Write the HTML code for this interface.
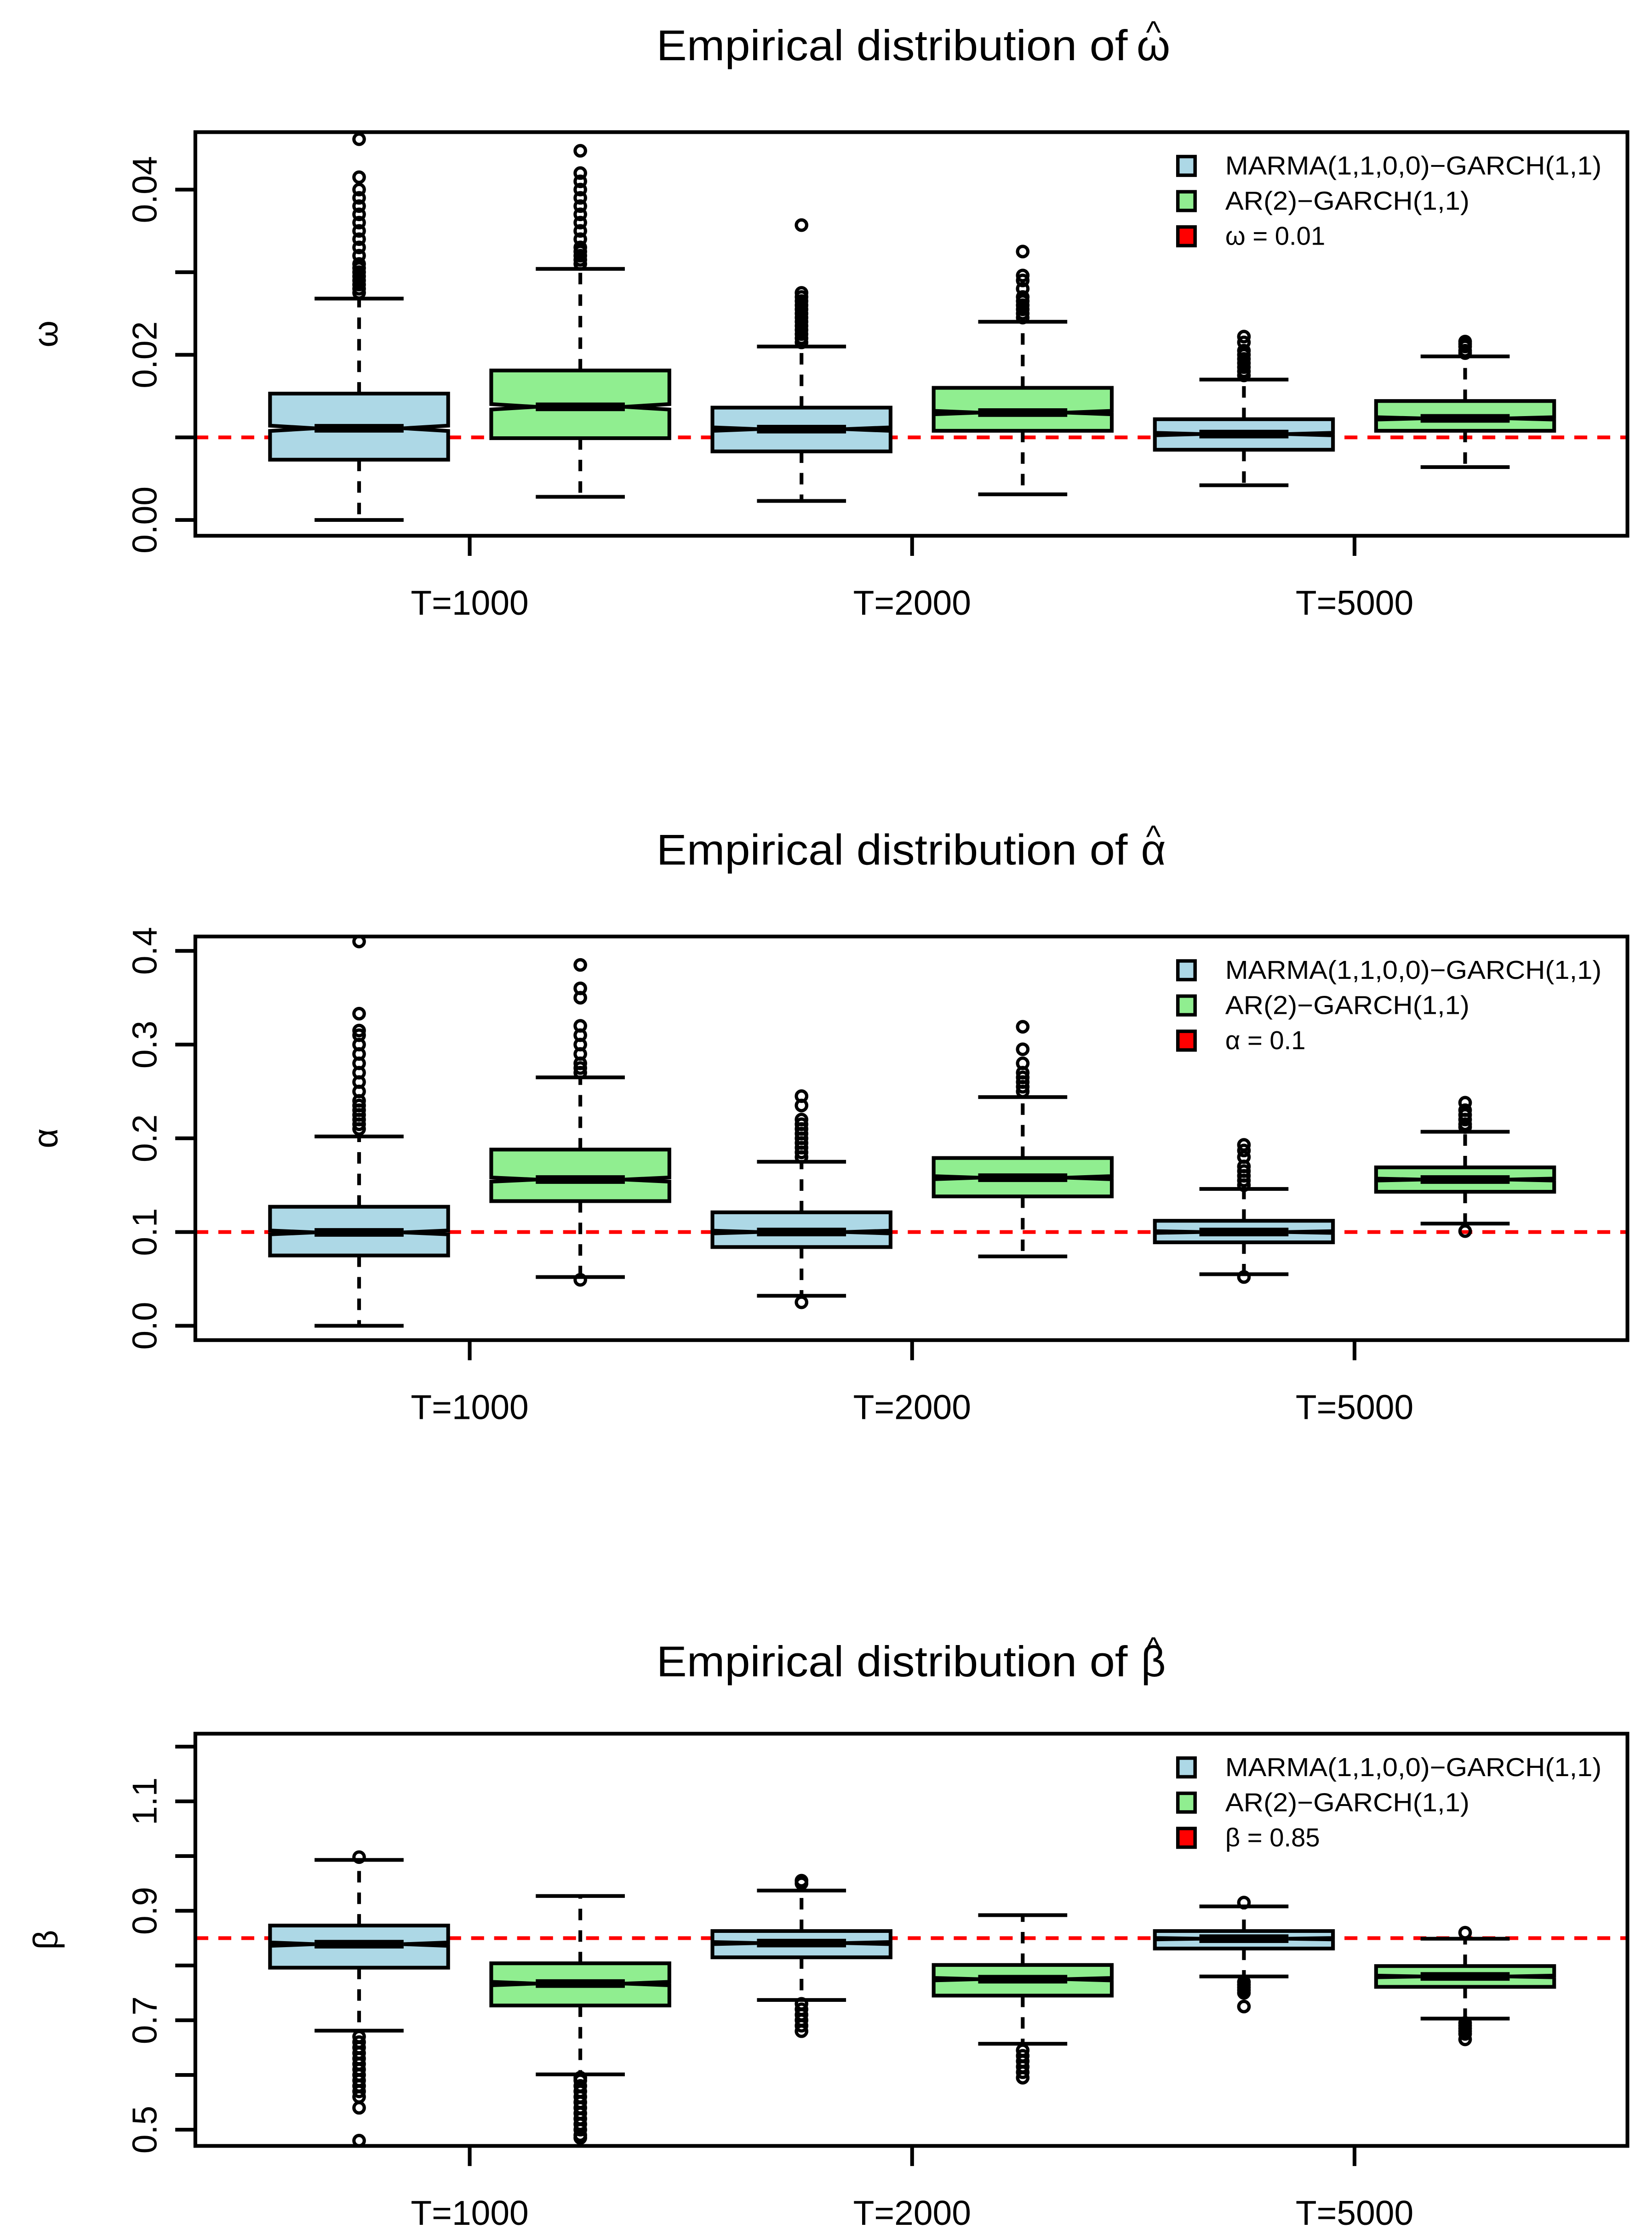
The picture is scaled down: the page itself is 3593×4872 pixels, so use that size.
<!DOCTYPE html>
<html><head><meta charset="utf-8"><style>
html,body{margin:0;padding:0;background:#fff;}
svg{display:block;font-family:"Liberation Sans",Arial,sans-serif;}
</style></head><body>
<svg id="chart" xmlns="http://www.w3.org/2000/svg" width="3593" height="4872" viewBox="0 0 1150.1 1559.5"></svg>
<script>
// ---------- data ----------
const groups = ["T=1000","T=2000","T=5000"];
const seriesNames = ["MARMA(1,1,0,0)\u2212GARCH(1,1)","AR(2)\u2212GARCH(1,1)"];
const seriesColors = ["#add8e6","#90ee90"];
// stats order per box: [low whisker, Q1, median, Q3, high whisker]
const omegaStats = [
 [0.0000,0.0073,0.0111,0.0153,0.0268],
 [0.0028,0.0099,0.0137,0.0181,0.0304],
 [0.0023,0.0083,0.0110,0.0136,0.0210],
 [0.0031,0.0108,0.0130,0.0160,0.0240],
 [0.0042,0.0085,0.0104,0.0122,0.0170],
 [0.0064,0.0108,0.0123,0.0144,0.0198]];
const omegaOut = [
 [0.0275,0.028,0.0285,0.029,0.0295,0.030,0.0305,0.031,0.032,0.033,0.034,0.035,0.036,0.037,0.038,0.039,0.040,0.0415,0.0461],
 [0.031,0.0315,0.032,0.0325,0.033,0.034,0.035,0.036,0.037,0.038,0.039,0.040,0.041,0.042,0.0447],
 [0.0215,0.022,0.0225,0.023,0.0235,0.024,0.0245,0.025,0.0255,0.026,0.0265,0.027,0.0275,0.0357],
 [0.0245,0.025,0.0255,0.026,0.0265,0.027,0.028,0.029,0.0296,0.0325],
 [0.0175,0.018,0.0185,0.019,0.0195,0.020,0.0205,0.0215,0.0222],
 [0.0202,0.0205,0.021,0.0213,0.0216]];
const omegaTicks = [0,0.01,0.02,0.03,0.04];
const omegaTickLabels = ["0.00","","0.02","","0.04"];
const omegaTrue = 0.01;

const alphaStats = [
 [0.000,0.075,0.0996,0.127,0.202],
 [0.052,0.133,0.156,0.188,0.265],
 [0.032,0.084,0.100,0.121,0.175],
 [0.074,0.138,0.158,0.179,0.244],
 [0.055,0.089,0.100,0.112,0.146],
 [0.109,0.143,0.156,0.169,0.207]];
const alphaOut = [
 [0.21,0.215,0.22,0.225,0.23,0.235,0.24,0.25,0.26,0.27,0.28,0.29,0.30,0.31,0.315,0.333,0.41],
 [0.049,0.27,0.275,0.28,0.29,0.30,0.31,0.32,0.35,0.36,0.385],
 [0.025,0.18,0.185,0.19,0.195,0.20,0.205,0.21,0.215,0.22,0.235,0.245],
 [0.25,0.255,0.26,0.265,0.27,0.28,0.295,0.319],
 [0.052,0.15,0.155,0.16,0.165,0.17,0.18,0.187,0.193],
 [0.101,0.212,0.215,0.22,0.225,0.23,0.238]];
const alphaTicks = [0,0.1,0.2,0.3,0.4];
const alphaTickLabels = ["0.0","0.1","0.2","0.3","0.4"];
const alphaTrue = 0.1;

const betaStats = [
 [0.681,0.796,0.839,0.873,0.993],
 [0.601,0.727,0.767,0.804,0.927],
 [0.737,0.815,0.841,0.863,0.937],
 [0.657,0.745,0.775,0.801,0.892],
 [0.780,0.831,0.849,0.863,0.908],
 [0.703,0.761,0.780,0.799,0.849]];
const betaOut = [
 [0.998,0.67,0.66,0.65,0.64,0.63,0.62,0.61,0.60,0.59,0.58,0.57,0.56,0.54,0.48],
 [0.595,0.59,0.58,0.57,0.56,0.55,0.54,0.53,0.52,0.51,0.50,0.49,0.485],
 [0.955,0.95,0.73,0.72,0.71,0.70,0.69,0.68],
 [0.645,0.635,0.625,0.615,0.605,0.595],
 [0.915,0.77,0.765,0.76,0.755,0.75,0.725],
 [0.86,0.695,0.69,0.685,0.68,0.675,0.665]];
const betaTicks = [0.5,0.6,0.7,0.8,0.9,1.0,1.1,1.2];
const betaTickLabels = ["0.5","","0.7","","0.9","","1.1",""];
const betaTrue = 0.85;

// ---------- drawing ----------
const NS="http://www.w3.org/2000/svg";
const svg=document.getElementById("chart");
function mk(tag,attrs,parent){const e=document.createElementNS(NS,tag);for(const k in attrs)e.setAttribute(k,attrs[k]);(parent||svg).appendChild(e);return e;}

const L=136,R=1133;
const groupX=[327,635,943];
const boxX=[250,404,558,712,866,1020];
const HW=62;
const LW=2.6;

function panel(cfg){
  const g=mk("g",{});
  
  
  const [v0,y0,v1,y1]=cfg.map;
  const Y=v=>y0+(v-v0)*(y1-y0)/(v1-v0);
  // title
  const t=mk("text",{x:457,y:cfg.titleY,"font-size":30,textLength:328,lengthAdjust:"spacingAndGlyphs"},g);
  t.textContent="Empirical distribution of";
  
  
  const ts=mk("text",{x:cfg.hatX,y:cfg.titleY,"font-size":30,"text-anchor":"middle"},g);
  ts.textContent=cfg.sym;
  
  
  const hat=mk("text",{x:cfg.hatX,y:cfg.titleY-12,"font-size":22,"text-anchor":"middle"},g);
  hat.textContent="^";
  
  
  // red true line
  const rl=mk("line",{x1:L,x2:R,y1:Y(cfg.trueVal),y2:Y(cfg.trueVal),stroke:"#ff0000","stroke-width":2.6,"stroke-dasharray":"9,7"},g);
  
  
  // boxes
  cfg.stats.forEach((s,i)=>{
    const cx=boxX[i];
    const bg=mk("g",{},g);
    
    
    const [lo,q1,md,q3,hi]=s;
    const iqr=q3-q1, nh=0.04*iqr;
    mk("line",{x1:cx,x2:cx,y1:Y(q3),y2:Y(hi),stroke:"#000","stroke-width":LW,"stroke-dasharray":"8,7"},bg);
    mk("line",{x1:cx,x2:cx,y1:Y(q1),y2:Y(lo),stroke:"#000","stroke-width":LW,"stroke-dasharray":"8,7"},bg);
    mk("line",{x1:cx-31,x2:cx+31,y1:Y(hi),y2:Y(hi),stroke:"#000","stroke-width":LW},bg);
    mk("line",{x1:cx-31,x2:cx+31,y1:Y(lo),y2:Y(lo),stroke:"#000","stroke-width":LW},bg);
    const pts=[[cx-HW,Y(q1)],[cx-HW,Y(md-nh)],[cx-HW/2,Y(md)],[cx-HW,Y(md+nh)],[cx-HW,Y(q3)],
               [cx+HW,Y(q3)],[cx+HW,Y(md+nh)],[cx+HW/2,Y(md)],[cx+HW,Y(md-nh)],[cx+HW,Y(q1)]];
    mk("polygon",{points:pts.map(p=>p.join(",")).join(" "),fill:seriesColors[i%2],stroke:"#000","stroke-width":LW},bg);
    mk("line",{x1:cx-HW/2,x2:cx+HW/2,y1:Y(md),y2:Y(md),stroke:"#000","stroke-width":6},bg);
    cfg.out[i].forEach(v=>mk("circle",{cx:cx,cy:Y(v),r:3.6,fill:"none",stroke:"#000","stroke-width":2.3},bg));
  });
  // frame
  const fr=mk("rect",{x:L,y:cfg.top,width:R-L,height:cfg.bot-cfg.top,fill:"none",stroke:"#000","stroke-width":LW},g);
  
  
  // y axis
  const ya=mk("g",{},g);
  
  
  cfg.ticks.forEach((v,i)=>{
    const y=Y(v);
    mk("line",{x1:L-14,x2:L,y1:y,y2:y,stroke:"#000","stroke-width":LW},ya);
    if(cfg.tickLabels[i]){
      const tl=mk("text",{x:0,y:0,"font-size":24,"text-anchor":"middle",transform:`translate(109,${y}) rotate(-90)`},ya);
      tl.textContent=cfg.tickLabels[i];
    }
  });
  const yt=mk("text",{x:0,y:0,"font-size":24,"text-anchor":"middle",transform:`translate(40,${(cfg.top+cfg.bot)/2}) rotate(-90)`},g);
  yt.textContent=cfg.sym;
  
  
  // x axis
  const xa=mk("g",{},g);
  
  
  groups.forEach((lab,i)=>{
    mk("line",{x1:groupX[i],x2:groupX[i],y1:cfg.bot,y2:cfg.bot+14,stroke:"#000","stroke-width":LW},xa);
    const tx=mk("text",{x:groupX[i],y:cfg.bot+55,"font-size":24,"text-anchor":"middle"},xa);
    tx.textContent=lab;
  });
  // legend
  const lg=mk("g",{},g);
  
  
  const labels=[seriesNames[0],seriesNames[1],cfg.sym+" = "+cfg.trueVal];
  const cols=[seriesColors[0],seriesColors[1],"#ff0000"];
  labels.forEach((lab,i)=>{
    const ly=cfg.top+23+i*24.5;
    mk("rect",{x:820,y:ly-6,width:12,height:13,fill:cols[i],stroke:"#000","stroke-width":2.4},lg);
    const lt=mk("text",{x:853,y:ly+6.5,"font-size":18},lg);
    if(i===0){lt.setAttribute("textLength","262");lt.setAttribute("lengthAdjust","spacingAndGlyphs");}
    if(i===1){lt.setAttribute("textLength","170");lt.setAttribute("lengthAdjust","spacingAndGlyphs");}
    lt.textContent=lab;
  });
}

panel({key:"omega",sym:"ω",hatX:803,titleY:42,top:92,bot:373,map:[0,362,0.04,132],
  stats:omegaStats,out:omegaOut,ticks:omegaTicks,tickLabels:omegaTickLabels,trueVal:omegaTrue});
panel({key:"alpha",sym:"α",hatX:803,titleY:602,top:652,bot:933,map:[0,923,0.4,662],
  stats:alphaStats,out:alphaOut,ticks:alphaTicks,tickLabels:alphaTickLabels,trueVal:alphaTrue});
panel({key:"beta",sym:"β",hatX:803,titleY:1167,top:1207,bot:1494,map:[0.5,1482.7,1.2,1216],
  stats:betaStats,out:betaOut,ticks:betaTicks,tickLabels:betaTickLabels,trueVal:betaTrue});
</script>
</body></html>
